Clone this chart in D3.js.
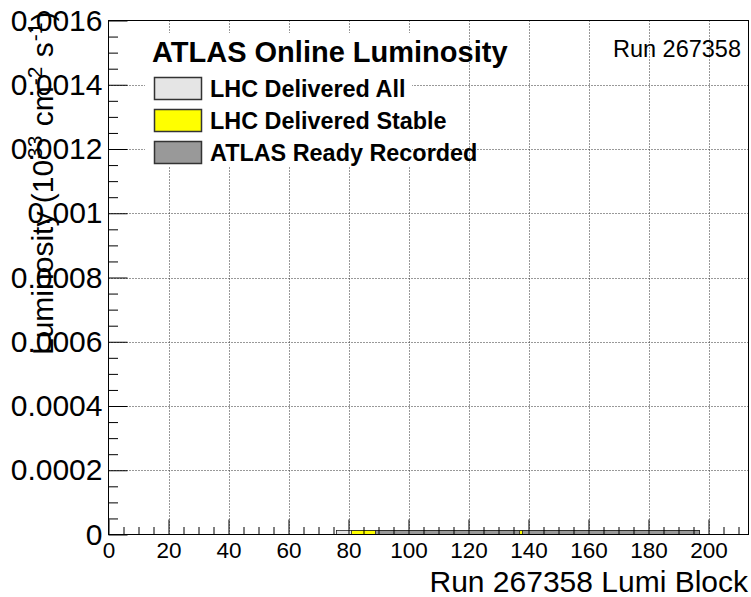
<!DOCTYPE html>
<html>
<head>
<meta charset="utf-8">
<script src="https://cdn.jsdelivr.net/npm/d3@7"></script>
<style>
  html, body { margin: 0; padding: 0; background: #fff; }
  svg { display: block; font-family: "Liberation Sans", Arial, Helvetica, sans-serif; }
</style>
</head>
<body>
<svg id="chart" width="751" height="597"></svg>
<script>
// ---------------- data ----------------
const runNumber = "267358";
const xDomain = [0, 213.33];
const yDomain = [0, 0.0016];
const xMajorTicks = [0, 20, 40, 60, 80, 100, 120, 140, 160, 180, 200];
const yMajorTicks = [0, 0.0002, 0.0004, 0.0006, 0.0008, 0.001, 0.0012, 0.0014, 0.0016];
const yTickLabels = ["0", "0.0002", "0.0004", "0.0006", "0.0008", "0.001", "0.0012", "0.0014", "0.0016"];

// Histogram segments: lumi-block ranges [start, end) with luminosity value
const deliveredAllStart = [76];
const deliveredAllEnd = [197];
const deliveredAllValue = [1.25e-5];

const deliveredStableStart = [81];
const deliveredStableEnd = [197];
const deliveredStableValue = [1.25e-5];

const readyRecordedStart = [89, 138];
const readyRecordedEnd = [137, 197];
const readyRecordedValue = [1.25e-5, 1.25e-5];

const legendLabels = ["LHC Delivered All", "LHC Delivered Stable", "ATLAS Ready Recorded"];
const seriesColors = ["#e5e5e5", "#ffff00", "#999999"];

// ---------------- layout ----------------
const svg = d3.select("#chart");
const pLeft = 108.5, pRight = 748.5, pTop = 20.5, pBottom = 534.5;
const x = d3.scaleLinear().domain(xDomain).range([pLeft, pRight]);
const y = d3.scaleLinear().domain(yDomain).range([pBottom, pTop]);

const xMinor = d3.range(0, 213, 5).filter(v => v % 20 !== 0);
const yMinor = d3.range(0, 0.00160001, 0.00005).filter(v => Math.abs(v / 0.0002 - Math.round(v / 0.0002)) > 1e-6);

// grid
const grid = svg.append("g").attr("stroke", "#333").attr("stroke-width", 1).attr("stroke-dasharray", "1,2");
grid.selectAll("line.gx").data(xMajorTicks.filter(v => v > 0)).join("line")
  .attr("x1", d => Math.round(x(d)) + 0.5).attr("x2", d => Math.round(x(d)) + 0.5)
  .attr("y1", pTop).attr("y2", pBottom);
grid.selectAll("line.gy").data(yMajorTicks.filter(v => v > 0 && v < 0.0016)).join("line")
  .attr("y1", d => Math.round(y(d)) + 0.5).attr("y2", d => Math.round(y(d)) + 0.5)
  .attr("x1", pLeft).attr("x2", pRight);

// histograms
function drawSeries(starts, ends, values, color) {
  const g = svg.append("g");
  starts.forEach((s, i) => {
    g.append("rect")
      .attr("x", x(s)).attr("width", x(ends[i]) - x(s))
      .attr("y", y(values[i])).attr("height", y(0) - y(values[i]))
      .attr("fill", color).attr("stroke", "#222").attr("stroke-width", 0.8);
  });
}
drawSeries(deliveredAllStart, deliveredAllEnd, deliveredAllValue, seriesColors[0]);
drawSeries(deliveredStableStart, deliveredStableEnd, deliveredStableValue, seriesColors[1]);
drawSeries(readyRecordedStart, readyRecordedEnd, readyRecordedValue, seriesColors[2]);

// axes
const yAxis = d3.axisLeft(y).tickValues(yMajorTicks).tickSize(-19).tickPadding(6)
  .tickFormat((d, i) => yTickLabels[i]);
const gy = svg.append("g").attr("transform", `translate(${pLeft},0)`).call(yAxis);
gy.select(".domain").remove();
gy.selectAll("line").attr("stroke", "#000");
gy.selectAll("text").attr("font-size", 30).attr("font-family", "Liberation Sans, Arial, sans-serif").attr("fill", "#000");

const yAxisMinor = d3.axisLeft(y).tickValues(yMinor).tickSize(-9.5).tickFormat("");
const gym = svg.append("g").attr("transform", `translate(${pLeft},0)`).call(yAxisMinor);
gym.select(".domain").remove();
gym.selectAll("line").attr("stroke", "#000");

const xAxis = d3.axisBottom(x).tickValues(xMajorTicks).tickSize(-15).tickPadding(8)
  .tickFormat(d3.format("d"));
const gx = svg.append("g").attr("transform", `translate(0,${pBottom})`).call(xAxis);
gx.select(".domain").remove();
gx.selectAll("line").attr("stroke", "#000");
gx.selectAll("text").attr("font-size", 22.5).attr("font-family", "Liberation Sans, Arial, sans-serif").attr("fill", "#000");

const xAxisMinor = d3.axisBottom(x).tickValues(xMinor).tickSize(-7.5).tickFormat("");
const gxm = svg.append("g").attr("transform", `translate(0,${pBottom})`).call(xAxisMinor);
gxm.select(".domain").remove();
gxm.selectAll("line").attr("stroke", "#000");

// frame
svg.append("rect").attr("x", pLeft).attr("y", pTop).attr("width", pRight - pLeft).attr("height", pBottom - pTop)
  .attr("fill", "none").attr("stroke", "#000").attr("stroke-width", 1);

// legend
svg.append("rect").attr("x", 145).attr("y", 33).attr("width", 267).attr("height", 134).attr("fill", "#fff");
svg.append("text").attr("x", 152).attr("y", 62).attr("font-size", 29).attr("font-weight", "bold")
  .text("ATLAS Online Luminosity");
const rowTop = [77, 109, 141];
legendLabels.forEach((lab, i) => {
  svg.append("rect").attr("x", 154.5).attr("y", rowTop[i] + 0.5).attr("width", 47).attr("height", 22)
    .attr("fill", seriesColors[i]).attr("stroke", "#333").attr("stroke-width", 1.5);
  svg.append("text").attr("x", 210).attr("y", rowTop[i] + 19.5).attr("font-size", 23.4).attr("font-weight", "bold")
    .text(lab);
});

// run label
svg.append("text").attr("x", 741).attr("y", 56.5).attr("text-anchor", "end").attr("font-size", 23.5)
  .text("Run " + runNumber);

// x title
svg.append("text").attr("x", 748).attr("y", 592).attr("text-anchor", "end").attr("font-size", 30)
  .text("Run " + runNumber + " Lumi Block");

// y title
const yt = svg.append("text").attr("transform", "translate(53,355) rotate(-90)").attr("font-size", 30);
yt.append("tspan").text("Luminosity (10");
yt.append("tspan").attr("dx", 1).attr("dy", -11).attr("font-size", 21).text("33");
yt.append("tspan").attr("dx", 1).attr("dy", 11).text(" cm");
yt.append("tspan").attr("dx", 1).attr("dy", -11).attr("font-size", 21).text("-2");
yt.append("tspan").attr("dx", 1).attr("dy", 11).text(" s");
yt.append("tspan").attr("dx", 1).attr("dy", -11).attr("font-size", 21).text("-1");
yt.append("tspan").attr("dx", 1).attr("dy", 11).text(")");
</script>
</body>
</html>
